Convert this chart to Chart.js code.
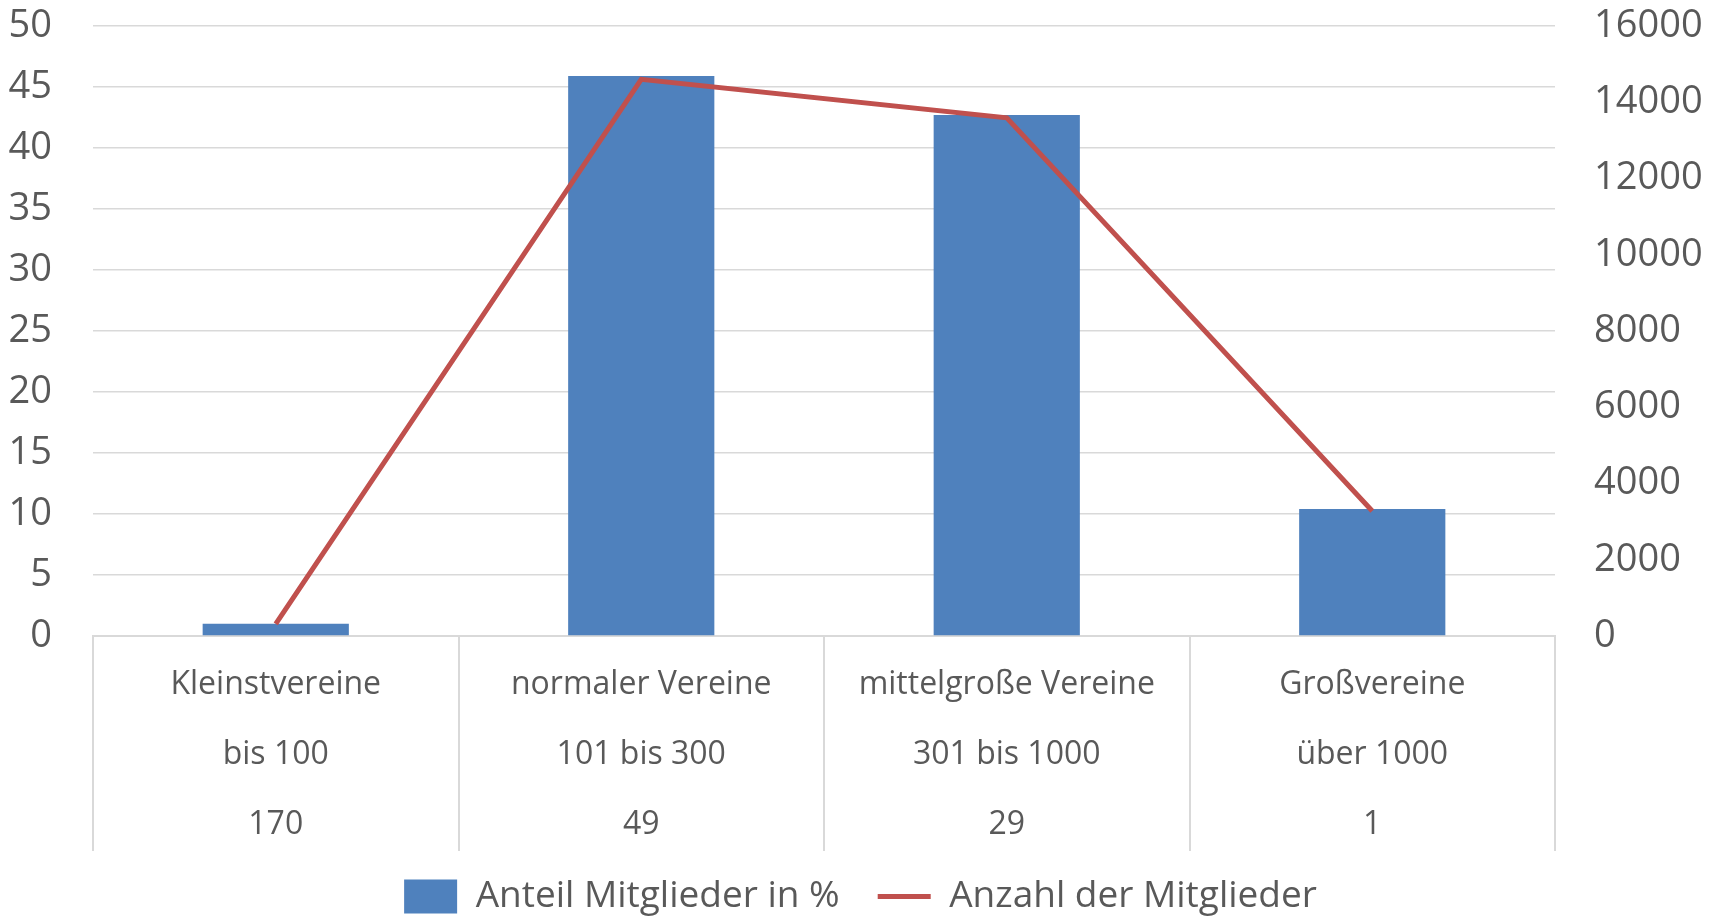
<!DOCTYPE html>
<html>
<head>
<meta charset="utf-8">
<script src="https://cdn.jsdelivr.net/npm/chart.js@4/dist/chart.umd.min.js"></script>
<style>
  html, body { margin: 0; padding: 0; background: #fff; }
  #wrap { width: 1721px; height: 917px; }
</style>
</head>
<body>
<div id="wrap"><canvas id="myChart"></canvas></div>
<script>
// Kategorien (drei Zeilen je Kategorie: Name, Größe, Anzahl Vereine)
var vereinsTyp = ["Kleinstvereine", "normaler Vereine", "mittelgroße Vereine", "Großvereine"]
var mitgliederBereich = ["bis 100", "101 bis 300", "301 bis 1000", "über 1000"]
var anzahlVereine = ["170", "49", "29", "1"]

// Werte
var anteilProzent = [1.0, 45.9, 42.7, 10.4]
var anzahlMitglieder = [320, 14600, 13590, 3280]

var labels = vereinsTyp.map(function(n, i) {
    return [n, mitgliederBereich[i], anzahlVereine[i]]
})

var grau = "#595959"
var linie = "#d9d9d9"

var ctx = document.getElementById("myChart").getContext("2d")

var data = {
    labels: labels,
    datasets: [
        {
            type: "line",
            label: "Anzahl der Mitglieder",
            data: anzahlMitglieder,
            yAxisID: "y1",
            borderColor: "#c0504d",
            backgroundColor: "#c0504d",
            borderWidth: 5,
            pointRadius: 0,
            pointStyle: "line",
            tension: 0,
            order: 0
        },
        {
            type: "bar",
            label: "Anteil Mitglieder in %",
            data: anteilProzent,
            yAxisID: "y",
            backgroundColor: "#4f81bd",
            borderWidth: 0,
            barPercentage: 0.4,
            categoryPercentage: 1,
            pointStyle: "rect",
            order: 1
        }
    ]
}

//Breite/Abstand der y-Achsen fest, sonst rutscht die Zeichenfläche nach unten
function yFit(breite) {
    return function(scale) {
        scale.width = breite
        scale.paddingTop = 0
        scale.paddingBottom = 0
    }
}

var config = {
    type: "bar",
    data: data,
    options: {
        responsive: true,
        maintainAspectRatio: false,
        animation: false,
        layout: { padding: { top: 26, bottom: -8, left: 0, right: 0 } },
        plugins: {
            tooltip: { enabled: false },
            legend: {
                position: "bottom",
                reverse: true,
                labels: {
                    usePointStyle: true,
                    pointStyleWidth: 53,
                    boxHeight: 34,
                    padding: 38,
                    color: grau,
                    font: { family: "'Open Sans'", size: 37 }
                }
            }
        },
        scales: {
            x: {
                offset: true,
                border: { display: true, color: linie, width: 2 },
                grid: {
                    offset: true,
                    drawOnChartArea: false,
                    drawTicks: true,
                    tickLength: 215,
                    color: linie,
                    lineWidth: 2
                },
                ticks: {
                    color: grau,
                    padding: -201,
                    maxRotation: 0,
                    autoSkip: false,
                    font: { family: "'Open Sans'", size: 32, lineHeight: 2.1875 }
                },
                afterFit: function(scale) { scale.height = 204 }
            },
            y: {
                position: "left",
                min: 0,
                max: 50,
                border: { display: false },
                grid: { color: linie, lineWidth: 1.5, drawTicks: false },
                ticks: {
                    stepSize: 5,
                    padding: 41,
                    color: grau,
                    font: { family: "'Open Sans'", size: 38 }
                },
                afterFit: yFit(93)
            },
            y1: {
                position: "right",
                min: 0,
                max: 16000,
                border: { display: false },
                grid: { drawOnChartArea: false, drawTicks: false },
                ticks: {
                    stepSize: 2000,
                    padding: 39,
                    color: grau,
                    font: { family: "'Open Sans'", size: 38 },
                    callback: function(value) { return String(value) }
                },
                afterFit: yFit(166)
            }
        }
    }
}

var myChart = new Chart(ctx, config)
</script>
</body>
</html>
